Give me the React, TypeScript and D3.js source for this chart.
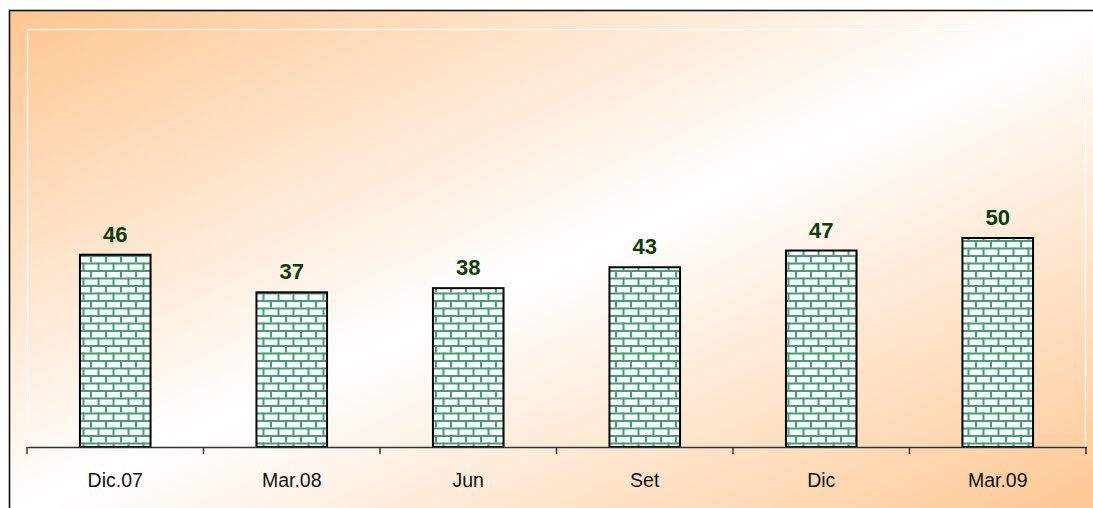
import * as d3 from "d3";
import { useEffect, useRef } from "react";

const periods = ["Dic.07", "Mar.08", "Jun", "Set", "Dic", "Mar.09"];
const values = [46, 37, 38, 43, 47, 50];

const W = 1093;
const H = 508;

const App = () => {
    const ref = useRef<SVGSVGElement>(null);

    useEffect(() => {
        const svg = d3.select(ref.current);
        svg.selectAll("*").remove();

        const plot = { left: 27, right: 1086, top: 29, bottom: 447 };

        const defs = svg.append("defs");
        const grad = defs.append("linearGradient")
            .attr("id", "bg")
            .attr("x1", 0).attr("y1", 0)
            .attr("x2", 1).attr("y2", 1);
        grad.append("stop").attr("offset", "0%").attr("stop-color", "#fdc690");
        grad.append("stop").attr("offset", "50%").attr("stop-color", "#ffffff");
        grad.append("stop").attr("offset", "100%").attr("stop-color", "#fdc690");

        // brick fill
        const bw = 15, bh = 7.5;
        const pat = defs.append("pattern")
            .attr("id", "brick")
            .attr("patternUnits", "userSpaceOnUse")
            .attr("width", bw).attr("height", bh * 2);
        pat.append("rect").attr("width", bw).attr("height", bh * 2).attr("fill", "#ffffff");
        const green = "#40a072";
        pat.append("rect").attr("x", 0).attr("y", 0).attr("width", bw).attr("height", 2).attr("fill", green);
        pat.append("rect").attr("x", 0).attr("y", bh).attr("width", bw).attr("height", 2).attr("fill", green);
        pat.append("rect").attr("x", 0).attr("y", 0).attr("width", 2).attr("height", bh).attr("fill", green);
        pat.append("rect").attr("x", bw / 2).attr("y", bh).attr("width", 2).attr("height", bh).attr("fill", green);

        // chart area
        svg.append("rect")
            .attr("x", 9.5).attr("y", 10.5)
            .attr("width", W).attr("height", H)
            .attr("fill", "url(#bg)")
            .attr("stroke", "#111")
            .attr("stroke-width", 1.6);

        // plot area border
        svg.append("rect")
            .attr("x", plot.left + 0.5).attr("y", plot.top + 0.5)
            .attr("width", plot.right - 1 - plot.left).attr("height", plot.bottom - plot.top)
            .attr("fill", "none")
            .attr("stroke", "#ffffff")
            .attr("stroke-width", 1.2);

        const x = d3.scaleBand()
            .domain(periods)
            .range([plot.left, plot.right])
            .paddingInner(0)
            .paddingOuter(0);

        const y = d3.scaleLinear()
            .domain([0, 100])
            .range([plot.bottom, plot.top]);

        const barW = x.bandwidth() * 0.4;

        svg.selectAll(".bar")
            .data(values)
            .enter()
            .append("rect")
            .attr("x", (d, i) => x(periods[i])! + (x.bandwidth() - barW) / 2)
            .attr("y", d => y(d))
            .attr("width", barW)
            .attr("height", d => plot.bottom - y(d))
            .attr("fill", "url(#brick)")
            .attr("stroke", "#000")
            .attr("stroke-width", 2);

        svg.selectAll(".lbl")
            .data(values)
            .enter()
            .append("text")
            .attr("x", (d, i) => x(periods[i])! + x.bandwidth() / 2)
            .attr("y", d => y(d) - 13)
            .attr("text-anchor", "middle")
            .attr("font-family", "Arial, 'Liberation Sans', sans-serif")
            .attr("font-weight", "bold")
            .attr("font-size", 22)
            .attr("fill", "#0b3d0b")
            .text(d => d);

        // x axis
        const axis = svg.append("g")
            .attr("transform", `translate(0, ${plot.bottom})`)
            .call(d3.axisBottom(x).tickSize(0).tickFormat(() => ""));
        axis.select(".domain").attr("stroke", "#333").attr("stroke-width", 1.5);

        const edges = periods.map(p => x(p)!).concat([plot.right]);
        svg.selectAll(".tick-mark")
            .data(edges)
            .enter()
            .append("line")
            .attr("x1", d => d).attr("x2", d => d)
            .attr("y1", plot.bottom).attr("y2", plot.bottom + 7)
            .attr("stroke", "#333")
            .attr("stroke-width", 1.5);

        svg.selectAll(".xlbl")
            .data(periods)
            .enter()
            .append("text")
            .attr("x", d => x(d)! + x.bandwidth() / 2)
            .attr("y", 487)
            .attr("text-anchor", "middle")
            .attr("font-family", "Arial, 'Liberation Sans', sans-serif")
            .attr("font-size", 19.5)
            .attr("fill", "#111")
            .text(d => d);
    }, []);

    return (
        <svg ref={ref} width={W} height={H}
            style={{ position: "absolute", left: 0, top: 0, background: "#ffffff" }} />
    );
};

export default App;
